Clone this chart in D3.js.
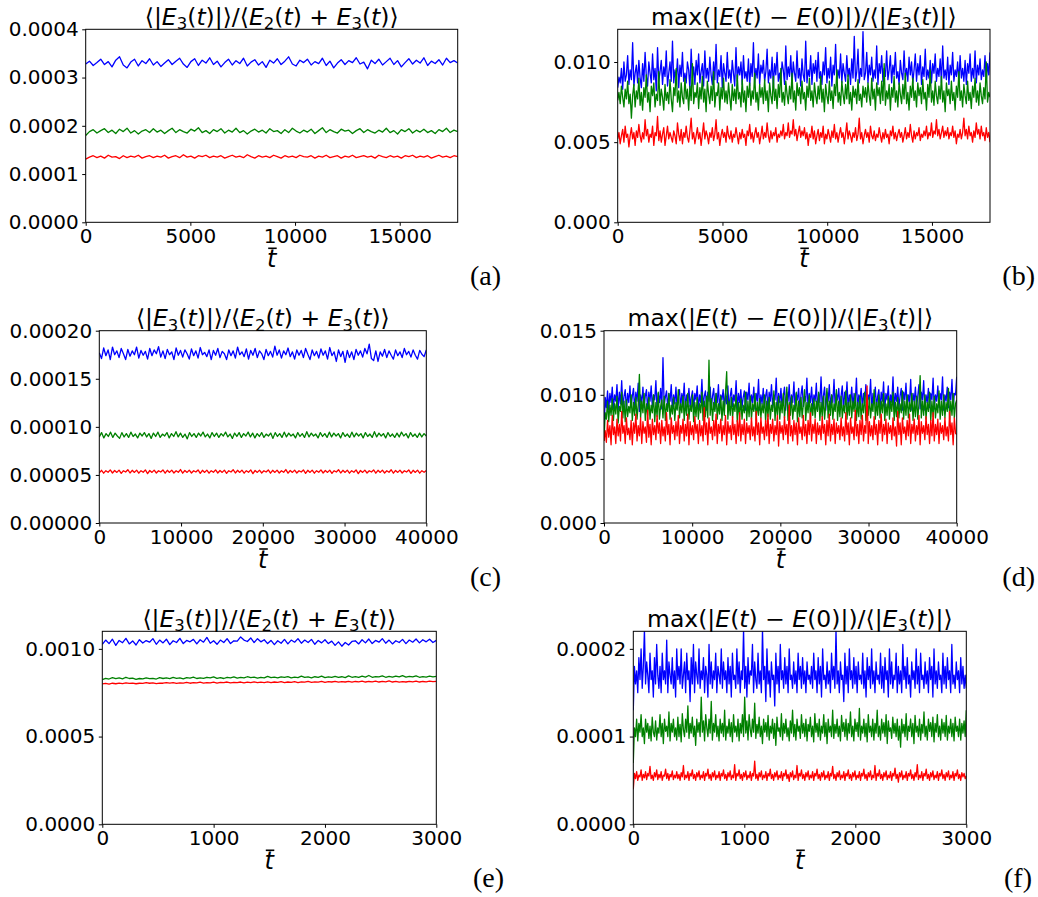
<!DOCTYPE html>
<html>
<head>
<meta charset="utf-8">
<script src="https://d3js.org/d3.v7.min.js"></script>
<style>
body { margin: 0; background: #fff; }
svg text { font-family: "DejaVu Sans", sans-serif; }
svg text.plab { font-family: "Liberation Serif", serif; }
</style>
</head>
<body>
<script>
// ---- data (series values are in the unit given next to them) ----
// panel (a), unit 1e-6
const aBlue = [328,334,325,331,338,327,333,322,336,343,326,320,332,338,324,335,329,339,326,333,323,330,337,327,334,340,328,321,333,339,325,336,330,341,327,334,322,331,338,326,335,329,340,324,332,337,326,333,321,336,330,339,327,334,343,328,324,336,331,338,326,333,329,340,325,334,320,330,337,327,335,331,341,328,332,318,336,329,338,326,333,340,327,335,322,331,339,328,336,330,341,325,334,329,337,326,340,331,335,330];
const aGreen = [180,188,192,185,190,194,186,191,184,193,188,195,185,190,183,189,192,186,194,187,191,184,190,195,186,192,188,185,193,189,196,186,190,184,192,188,194,185,191,187,195,186,190,183,189,193,187,191,185,194,188,190,184,192,186,195,189,185,191,187,193,184,190,196,186,192,188,185,193,189,191,184,190,194,186,192,188,185,191,187,195,186,190,183,192,188,194,185,191,187,193,186,190,184,192,188,195,186,191,188];
const aRed = [131,135,138,134,137,133,139,135,136,132,138,134,137,135,139,133,136,138,134,137,135,139,133,136,138,134,140,135,137,133,138,136,139,134,137,135,138,133,136,139,135,137,134,140,136,133,138,135,137,134,139,136,133,138,135,137,134,139,136,135,138,133,137,135,139,134,136,138,133,137,135,139,134,136,138,135,137,133,139,136,134,138,135,137,133,138,136,139,134,137,135,138,133,136,139,135,137,134,138,136];

// panel (b), unit 1e-5
const bBlue = [840,905,870,960,830,1000,880,920,1040,860,950,890,1120,850,930,980,870,1010,900,840,
990,880,1060,910,850,1000,930,870,1050,890,960,820,1090,880,940,1010,860,970,910,1070,
850,930,1000,880,1130,870,950,900,1020,840,980,910,1060,880,930,870,1000,950,830,1080,
900,970,860,1010,920,1050,870,940,990,850,1070,900,960,880,1030,920,860,1000,890,1110,
870,950,910,1040,840,990,930,880,1060,900,950,870,1010,930,850,1090,880,970,920,1000,
860,1040,900,940,880,1020,850,990,910,1120,870,960,900,1050,860,980,930,1010,880,940,
1080,870,950,900,1030,840,990,920,1060,880,930,870,1000,950,860,1100,890,970,910,1040,
860,1000,930,880,1070,900,960,850,1020,920,880,1130,870,950,910,1040,860,990,930,1010,
880,1060,900,940,860,1000,920,1090,870,960,900,1030,850,980,920,1110,880,950,900,1050,
870,990,930,880,1040,910,960,860,1020,900,1160,880,940,1080,870,960,910,1190,890,930,
1060,870,980,920,1030,880,950,900,1100,860,990,930,1040,880,960,910,1070,890,950,1040,
870,980,920,1060,900,940,860,1010,930,890,1070,900,960,880,1030,920,1000,870,950,1050,
880,990,920,1040,860,970,910,1080,890,950,900,1010,870,990,930,1050,880,960,910,1020,
870,1100,900,950,890,1030,860,980,920,1060,880,950,910,1000,870,1040,900,960,880,1010,
860,990,930,1050,880,960,900,1070,870,980,920,1020,890,950,910,1040,880,990,920,1060];
const bGreen = [760,810,740,850,780,720,830,770,880,740,800,650,790,860,720,820,770,900,730,810,
700,840,780,920,750,810,690,850,790,870,720,800,760,940,730,830,780,700,860,760,
810,740,890,770,690,840,790,960,750,820,720,870,780,740,900,770,830,700,850,760,
990,740,810,780,870,710,840,770,910,750,830,690,880,800,740,850,760,940,720,810,
790,870,700,840,770,900,750,820,740,870,780,700,860,760,830,740,920,770,810,720,
890,750,820,690,850,780,870,730,820,770,930,750,810,700,860,780,840,740,890,760,
820,690,870,790,740,910,760,830,710,860,780,960,750,810,730,880,800,740,850,770,
930,750,820,700,870,790,840,740,880,770,810,700,850,780,900,760,820,720,870,790,
740,850,770,910,750,830,690,860,790,740,880,760,820,710,860,790,950,750,810,730,
880,800,740,860,770,920,740,810,700,850,780,830,740,890,760,800,720,850,780,840,
750,870,790,730,900,770,830,700,870,790,840,740,880,760,990,730,820,770,860,700,
840,780,910,750,820,720,870,800,740,860,770,930,740,810,700,850,780,900,760,820,
720,870,790,840,740,890,770,810,700,860,780,950,750,820,730,880,790,740,850,770,
910,750,820,690,870,790,830,740,880,760,810,700,850,780,940,760,820,720,860,790,
740,880,760,810,710,850,780,900,750,820,730,870,790,740,840,770,1000,750,810,780];
const bRed = [520,560,490,540,580,500,600,530,550,470,540,590,520,560,480,570,530,610,540,500,
560,520,640,540,580,500,550,530,600,480,560,540,660,510,570,500,550,590,480,540,
600,520,560,530,500,570,540,490,620,550,510,580,490,560,530,600,530,500,570,650,
520,560,490,540,590,520,560,480,550,620,520,570,540,490,560,530,590,510,550,640,
520,560,480,540,580,530,560,500,600,540,520,570,500,550,530,590,540,490,560,520,
580,530,550,480,570,540,610,520,560,500,550,590,530,560,490,540,600,520,560,530,
620,540,500,570,520,560,540,590,500,550,530,570,540,610,520,560,540,620,530,570,
550,640,540,580,510,560,600,530,570,540,590,520,560,480,550,530,600,520,570,490,
540,580,510,560,530,600,490,550,520,580,540,500,570,530,610,520,560,500,550,590,
530,560,490,550,620,520,570,540,500,560,530,590,510,550,650,520,560,490,540,580,
530,560,500,600,540,520,570,510,550,530,590,540,500,560,520,580,530,550,490,570,
540,600,520,560,510,550,580,530,560,500,540,590,520,560,530,610,540,500,570,520,
560,540,590,510,550,530,570,540,600,520,560,540,620,530,570,550,640,540,580,520,
560,600,530,570,540,590,520,560,540,600,530,570,490,550,530,580,520,560,650,540,
580,520,600,540,560,500,570,530,620,550,580,520,600,540,560,510,590,530,560,500];

// panel (c), unit 1e-7
const cBlue = [1770,1710,1820,1740,1800,1700,1830,1750,1790,1720,1815,1760,1700,1805,1735,1790,1750,1830,1715,1795,1745,1785,1705,1815,1740,1800,1760,1835,1725,1790,1710,1805,1750,1780,1700,1820,1745,1795,1725,1800,1760,1705,1810,1740,1790,1715,1825,1750,1775,1730,1800,1700,1795,1745,1815,1720,1785,1760,1700,1800,1740,1790,1715,1830,1750,1780,1730,1810,1705,1795,1745,1815,1720,1790,1760,1700,1805,1740,1785,1725,1840,1745,1800,1715,1790,1750,1820,1730,1780,1705,1800,1745,1795,1720,1815,1755,1700,1800,1740,1785,1715,1810,1745,1790,1705,1825,1740,1780,1680,1800,1730,1785,1670,1795,1720,1780,1700,1805,1745,1790,1725,1815,1760,1860,1710,1690,1790,1680,1780,1735,1805,1720,1790,1745,1705,1800,1740,1780,1720,1815,1750,1785,1725,1800,1745,1705,1795,1755,1730,1800];
const cGreen = [895,940,885,930,900,945,890,935,905,880,940,895,930,890,945,900,925,885,935,905,940,895,930,880,935,900,945,890,925,905,940,885,930,900,950,895,935,890,925,875,940,900,930,890,935,905,945,895,925,885,940,900,935,890,930,905,945,895,925,880,935,900,940,890,930,905,945,895,935,885,930,900,940,890,925,905,935,880,940,900,930,890,945,895,935,905,925,885,940,900,930,890,950,895,935,905,925,885,940,900,930,890,945,895,935,905,930,885,940,900,925,890,945,895,935,905,930,885,940,900,925,890,950,895,935,905,930,885,940,900,925,890,935,895,945,905,930,885,940,900,925,890,935,895,930,905];
const cRed = [522,548,518,544,528,552,520,546,526,550,516,544,530,554,520,548,526,550,518,544,528,552,514,546,526,550,520,544,530,552,518,548,526,550,520,544,528,556,518,546,526,550,520,544,530,552,516,548,526,550,518,544,528,552,520,546,526,550,516,544,530,554,520,548,526,550,518,544,528,552,514,546,526,550,520,544,530,552,518,548,526,550,520,544,528,556,518,546,526,550,520,544,530,552,516,548,526,550,518,544,528,552,520,546,526,550,516,544,530,554,520,548,526,550,518,544,528,552,514,546,526,550,520,544,530,552,518,548,526,550,520,544,528,554,518,546,526,550,520,544,530,552,516,548,526,550,518,544,528,545];

// panel (d), unit 1e-5
const dBlue = [700,980,900,1030,880,1010,940,1060,890,1000,950,1080,880,1020,930,1110,900,990,1040,880,
1010,940,1070,900,990,1050,880,1020,950,1090,870,1000,930,1060,900,990,1040,880,1020,950,
1070,900,1000,960,1110,880,1010,940,1050,890,1290,920,980,1030,900,1010,950,1080,880,1000,
930,1060,890,990,1040,900,1010,950,1090,880,1000,940,1050,910,980,1030,890,1010,960,1070,
880,1000,940,1120,900,990,1030,880,1020,950,1060,900,990,1050,890,1010,940,1080,880,1000,
960,1040,900,1010,930,1070,880,990,1050,910,1000,950,1110,890,1010,940,1040,900,980,1030,
880,1020,960,1090,900,1000,940,1060,890,1010,950,1120,880,1000,930,1050,900,990,1040,880,
1020,950,1080,900,1000,960,1130,890,1010,940,1050,900,990,1060,880,1020,950,1080,900,1000,
940,1100,890,1010,960,1050,880,1000,1070,910,990,950,1130,890,1010,940,1060,900,1000,950,
1090,880,1010,940,1140,900,990,1060,880,1020,950,1080,900,1000,940,1120,890,1010,960,1050,
900,990,1070,880,1020,950,1100,890,1000,940,1060,900,1010,950,1130,880,1000,960,1050,900,
1010,940,1080,890,1000,960,1120,880,1010,950,1060,900,990,1040,890,1020,950,1100,880,1010,
960,1070,900,1000,940,1140,890,1010,950,1060,900,990,1050,880,1020,960,1090,900,1000,940,
1120,880,1010,950,1060,900,990,1080,890,1020,960,1110,880,1000,940,1050,900,1010,960,1130,
890,1000,950,1070,900,1010,960,1140,880,1000,950,1060,900,1020,960,1120,890,1010,1000,1140];
const dGreen = [640,860,810,950,790,920,840,970,800,930,850,990,780,910,870,1020,820,950,790,960,
830,910,860,1000,800,940,840,980,810,920,1160,820,950,860,1010,800,930,840,980,810,
920,860,1000,790,940,830,1020,810,910,960,820,990,800,930,870,1010,810,920,850,980,
800,940,880,1040,820,930,860,990,800,950,840,1010,810,920,870,1000,790,940,830,980,
810,930,860,1020,800,950,830,990,820,1270,840,970,800,940,870,1010,810,930,850,990,
800,950,840,1020,1180,810,950,840,980,820,930,870,1000,790,940,830,970,810,920,860,
1020,800,950,830,990,810,930,870,1010,800,940,840,970,820,930,860,1000,790,950,830,
980,810,920,870,1030,800,940,840,990,810,950,860,1010,820,930,1060,800,940,840,990,
810,920,870,1020,790,950,830,980,820,930,1040,800,940,860,1000,810,930,840,970,820,
950,870,1020,800,940,830,990,810,930,1050,820,950,840,1000,810,930,870,1040,800,950,
830,990,820,920,860,1030,810,940,840,1000,820,950,870,1010,800,940,830,990,810,930,
860,1020,800,950,840,980,820,930,870,1040,810,940,840,1000,820,950,860,1010,800,930,
840,990,810,950,870,1020,800,940,830,980,820,930,860,1030,810,950,840,1000,820,940,
870,1010,800,950,830,990,810,930,1150,820,950,840,1000,810,940,870,1020,800,950,830,
990,820,930,860,1030,810,950,840,1000,820,940,870,1050,810,950,840,1010,820,930,960];
const dRed = [640,720,630,800,670,760,610,840,690,750,620,810,680,770,640,870,700,760,620,820,
690,740,650,800,610,780,700,850,640,760,680,820,620,790,700,750,630,880,670,770,
610,810,690,760,650,840,700,780,620,800,680,750,640,860,690,770,610,820,700,760,
650,790,680,840,620,760,700,810,640,770,680,850,610,790,690,760,650,830,700,770,
620,800,680,760,640,900,690,780,610,820,700,750,650,800,680,850,620,770,700,810,
640,760,690,840,610,790,700,760,650,830,690,770,620,800,680,860,640,770,690,810,
620,780,700,760,650,820,680,750,640,870,690,780,610,820,700,750,650,800,680,850,
620,770,700,810,640,760,690,840,600,790,700,760,650,830,690,770,620,920,680,760,
640,800,690,780,610,820,700,750,650,840,680,770,620,800,690,860,640,770,700,810,
620,780,690,760,650,830,700,770,610,800,680,850,640,770,690,810,620,780,700,760,
650,820,680,750,640,860,690,780,610,820,700,750,650,880,680,770,620,800,690,840,
640,760,700,1070,620,790,680,760,650,830,690,770,610,800,700,850,640,770,690,810,
620,780,700,760,650,820,680,750,600,870,690,780,610,820,700,750,650,800,680,850,
620,770,700,810,640,760,690,840,610,790,700,760,650,830,690,770,620,800,680,860,
640,770,690,810,620,780,700,760,650,820,680,750,640,870,690,780,610,820,700,690];

// panel (e), unit 1e-6
const eBlue = [1025,1050,1030,1055,1020,1048,1035,1060,1028,1045,1022,1052,1033,1047,1038,1058,1026,1050,1034,1055,1024,1046,1036,1060,1030,1048,1040,1054,1028,1052,1038,1065,1032,1046,1026,1050,1036,1058,1030,1046,1044,1068,1050,1042,1062,1036,1058,1040,1052,1030,1048,1024,1046,1032,1054,1028,1050,1038,1058,1032,1050,1036,1054,1026,1048,1034,1052,1030,1044,1020,1040,1015,1036,1022,1042,1046,1028,1052,1034,1056,1030,1048,1038,1058,1032,1050,1028,1046,1036,1054,1030,1050,1038,1056,1034,1052,1040,1055,1036,1048];
const eGreen = [825,832,828,836,830,834,829,838,831,833,826,831,829,834,830,832,828,836,831,834,830,837,832,835,829,836,833,839,831,835,832,838,834,840,832,836,831,838,835,840,833,837,834,841,836,839,833,838,835,843,836,839,834,840,837,842,835,839,836,844,837,840,835,841,838,845,836,840,837,843,838,841,836,846,838,842,837,844,839,848,838,842,840,846,838,843,839,845,840,847,839,843,840,846,838,842,839,844,840,843];
const eRed = [800,803,799,804,801,805,802,806,803,805,801,804,803,807,804,806,802,805,804,808,805,807,803,806,805,809,804,807,806,810,805,808,806,810,805,809,807,811,806,809,807,811,806,810,808,812,807,810,808,812,807,811,809,813,808,811,809,813,808,812,810,814,809,812,810,815,809,813,811,815,810,813,811,815,810,814,812,816,811,814,812,816,811,815,812,817,811,814,810,813,811,815,812,816,811,814,812,816,813,815];

// panel (f), unit 1e-6
const fBlue = [130,180,160,175,150,190,165,200,155,180,222,160,185,170,150,195,165,175,145,190,
160,205,170,155,180,150,195,165,175,160,210,150,185,170,160,190,155,175,145,200,
165,180,160,200,155,170,185,150,195,165,175,140,190,160,205,150,185,170,160,200,
155,175,165,190,150,180,170,145,205,160,185,155,175,165,195,150,180,170,160,200,
155,185,165,175,150,190,160,180,145,195,165,170,155,200,160,185,150,175,165,222,
155,180,145,190,160,175,170,205,150,185,165,155,195,160,175,150,222,165,180,140,
200,160,175,145,185,165,170,135,195,160,180,150,205,165,175,155,190,160,180,150,
200,165,170,155,185,160,175,150,195,165,180,155,190,160,175,150,185,165,170,160,
180,155,195,165,175,150,190,160,180,145,200,165,170,155,185,160,175,150,195,165,
180,155,222,160,175,150,185,165,170,140,195,160,180,150,200,165,175,155,190,160,
180,150,185,165,170,160,195,155,175,145,190,165,180,155,200,160,175,150,185,165,
170,160,195,155,180,150,190,165,175,145,200,160,185,155,170,165,195,150,180,160,
175,150,205,165,180,155,190,160,170,145,185,165,175,155,200,160,180,150,195,165,
170,155,185,160,175,150,190,165,180,145,200,160,175,155,185,165,170,150,195,160,
180,155,190,165,175,150,205,160,170,155,185,165,175,150,190,160,180,155,170,155];
const fGreen = [70,110,100,120,95,115,105,125,100,110,92,120,105,115,98,112,95,122,105,100,
118,96,110,104,125,100,115,92,120,106,112,100,128,95,115,105,120,100,110,96,
122,100,114,94,126,108,100,120,105,135,98,115,104,122,100,112,90,120,105,116,
100,145,105,118,95,125,110,100,120,104,140,96,115,105,125,100,112,95,120,104,
115,100,130,96,112,104,120,100,116,94,125,105,112,100,120,95,115,104,125,100,
145,104,118,96,125,108,100,120,105,138,98,114,104,122,100,112,92,120,105,116,
100,124,96,112,104,120,98,115,90,122,106,110,100,126,96,115,104,120,100,110,
95,118,104,130,100,114,96,120,106,112,98,125,104,115,100,120,95,114,106,122,
100,112,94,126,105,115,100,120,96,112,104,125,100,116,92,120,105,112,100,130,
98,114,104,120,100,112,95,124,106,116,100,120,96,115,104,128,100,112,95,120,
106,116,100,132,96,112,104,120,100,115,94,125,105,112,100,120,96,115,104,130,
100,112,96,120,104,116,100,125,92,118,106,110,98,122,104,115,100,120,96,112,
88,120,104,114,100,126,96,112,106,120,100,115,92,124,105,112,100,120,96,114,
104,128,100,112,96,120,106,116,100,122,94,115,105,125,100,112,96,120,104,116,
100,124,96,112,104,120,100,115,95,122,106,112,100,120,96,115,104,118,100,130];
const fRed = [40,58,52,60,50,56,54,62,50,57,53,60,51,58,55,66,52,56,50,59,
54,62,51,57,53,60,50,56,55,63,52,58,50,57,54,61,51,56,53,60,
52,57,50,59,54,67,51,56,53,60,50,58,55,62,52,57,50,59,54,61,
51,56,53,60,50,58,55,63,52,57,50,59,54,61,51,56,53,60,50,58,
55,62,52,57,50,59,54,61,51,56,53,68,50,58,55,62,52,57,50,59,
54,61,51,56,53,60,50,58,55,72,52,57,50,59,54,61,51,56,53,60,
50,58,55,63,52,57,50,59,54,61,51,56,53,60,50,58,55,62,52,57,
49,59,54,61,51,56,53,67,50,58,55,62,52,57,50,59,54,61,51,56,
53,60,50,58,55,63,52,57,50,59,54,61,51,56,53,60,50,58,55,66,
52,57,50,59,54,61,51,56,53,60,50,58,55,62,52,57,50,59,54,61,
51,56,53,60,50,58,55,63,52,57,50,59,54,61,51,56,53,67,50,58,
55,62,52,57,50,59,54,61,51,56,53,60,50,58,55,64,52,57,48,59,
54,61,51,56,53,60,50,58,55,62,52,57,50,59,54,68,51,56,53,60,
50,58,55,63,52,57,50,59,54,61,51,56,53,60,50,58,55,62,52,57,
50,59,54,61,51,56,53,60,50,58,55,62,52,57,50,59,54,58,52,55];

// axis ranges and tick values
const tEnds = [17770, 17770, 40000, 40000, 3000, 3000];
const yMaxes = [0.0004, 0.01204, 0.0002, 0.015, 0.0011, 0.00022];
const xTicksAB = [0, 5000, 10000, 15000];
const xTicksCD = [0, 10000, 20000, 30000, 40000];
const xTicksEF = [0, 1000, 2000, 3000];
const yTicksA = [0, 0.0001, 0.0002, 0.0003, 0.0004];
const yTicksB = [0, 0.005, 0.010];
const yTicksC = [0, 0.00005, 0.00010, 0.00015, 0.00020];
const yTicksD = [0, 0.005, 0.010, 0.015];
const yTicksE = [0, 0.0005, 0.0010];
const yTicksF = [0, 0.0001, 0.0002];
const panelLetters = ["(a)", "(b)", "(c)", "(d)", "(e)", "(f)"];
const colors = ["#0000ff", "#008000", "#ff0000"];

// layout (pixel boxes of each axes)
const panels = [
  {series: [aBlue, aGreen, aRed], unit: 1e-6, xt: xTicksAB, yt: yTicksA, dec: 4, title: "ratio", x0: 85.7, x1: 457.7, y0: 29.3, y1: 222.3, lx: 501, ly: 285},
  {series: [bBlue, bGreen, bRed], unit: 1e-5, xt: xTicksAB, yt: yTicksB, dec: 3, title: "max", x0: 617.7, x1: 990, y0: 29.3, y1: 222.3, lx: 1035, ly: 285},
  {series: [cBlue, cGreen, cRed], unit: 1e-7, xt: xTicksCD, yt: yTicksC, dec: 5, title: "ratio", x0: 99.3, x1: 426.3, y0: 330.7, y1: 523, lx: 501, ly: 586},
  {series: [dBlue, dGreen, dRed], unit: 1e-5, xt: xTicksCD, yt: yTicksD, dec: 3, title: "max", x0: 604, x1: 956.7, y0: 330.7, y1: 523, lx: 1035, ly: 586},
  {series: [eBlue, eGreen, eRed], unit: 1e-6, xt: xTicksEF, yt: yTicksE, dec: 4, title: "ratio", x0: 102.3, x1: 436.3, y0: 631.3, y1: 824.3, lx: 504, ly: 887},
  {series: [fBlue, fGreen, fRed], unit: 1e-6, xt: xTicksEF, yt: yTicksF, dec: 4, title: "max", x0: 633.3, x1: 966.3, y0: 631.3, y1: 824.3, lx: 1032, ly: 887}
];

// title pieces: [text, style]  n = normal, i = italic, s = subscript
const ratioTitle = [["⟨|","n"],["E","i"],["3","s"],["(","n"],["t","i"],[")|⟩/⟨","n"],["E","i"],["2","s"],["(","n"],["t","i"],[") + ","n"],["E","i"],["3","s"],["(","n"],["t","i"],[")⟩","n"]];
const maxTitle = [["max(|","n"],["E","i"],["(","n"],["t","i"],[") − ","n"],["E","i"],["(0)|)/⟨|","n"],["E","i"],["3","s"],["(","n"],["t","i"],[")|⟩","n"]];

const W = 1038, H = 897;
const svg = d3.select("body").append("svg")
  .attr("width", W)
  .attr("height", H);

panels.forEach((p, k) => {
  const x = d3.scaleLinear().domain([0, tEnds[k]]).range([p.x0, p.x1]);
  const y = d3.scaleLinear().domain([0, yMaxes[k]]).range([p.y1, p.y0]);
  const g = svg.append("g");

  g.append("clipPath").attr("id", "clip" + k)
    .append("rect")
    .attr("x", p.x0).attr("y", p.y0)
    .attr("width", p.x1 - p.x0).attr("height", p.y1 - p.y0);

  // lines: blue first, red last on top
  const line = d3.line()
    .x(d => x(d[0]))
    .y(d => y(d[1]));
  p.series.forEach((s, j) => {
    const pts = s.map((v, i) => [i * tEnds[k] / (s.length - 1), v * p.unit]);
    g.append("path")
      .datum(pts)
      .attr("clip-path", "url(#clip" + k + ")")
      .attr("d", line)
      .attr("fill", "none")
      .attr("stroke", colors[j])
      .attr("stroke-width", 1.3)
      .attr("stroke-linejoin", "round");
  });

  // frame
  g.append("rect")
    .attr("x", p.x0).attr("y", p.y0)
    .attr("width", p.x1 - p.x0).attr("height", p.y1 - p.y0)
    .attr("fill", "none").attr("stroke", "#000").attr("stroke-width", 1);

  const xAxis = g.append("g")
    .attr("transform", `translate(0,${p.y1})`)
    .call(d3.axisBottom(x).tickValues(p.xt).tickFormat(d3.format("d")).tickSize(3.5).tickSizeOuter(0).tickPadding(3));
  const yAxis = g.append("g")
    .attr("transform", `translate(${p.x0},0)`)
    .call(d3.axisLeft(y).tickValues(p.yt).tickFormat(d3.format("." + p.dec + "f")).tickSize(3.5).tickSizeOuter(0).tickPadding(3.5));
  [xAxis, yAxis].forEach(a => {
    a.select(".domain").remove();
    a.selectAll("text").attr("font-size", 20).attr("fill", "#000");
    a.selectAll("line").attr("stroke", "#000");
  });

  // title
  const parts = p.title === "ratio" ? ratioTitle : maxTitle;
  const tt = g.append("text")
    .attr("x", (p.x0 + p.x1) / 2)
    .attr("y", p.y0 - 4.5)
    .attr("text-anchor", "middle")
    .attr("font-size", 23.5)
    .style("white-space", "pre");
  let shifted = false;
  parts.forEach(([str, st]) => {
    const ts = tt.append("tspan").text(str);
    if (st === "i") ts.attr("font-style", "italic");
    if (st === "s") {
      ts.attr("font-size", 16.5).attr("dy", 4.5);
      shifted = true;
    } else if (shifted) {
      ts.attr("dy", -4.5);
      shifted = false;
    }
  });

  // x label: italic t with an overbar
  const cx = (p.x0 + p.x1) / 2;
  g.append("text")
    .attr("x", cx)
    .attr("y", p.y1 + 45)
    .attr("text-anchor", "middle")
    .attr("font-size", 24)
    .attr("font-style", "italic")
    .text("t");
  g.append("line")
    .attr("x1", cx - 3.5).attr("x2", cx + 5)
    .attr("y1", p.y1 + 26).attr("y2", p.y1 + 26)
    .attr("stroke", "#000").attr("stroke-width", 1.6);

  // panel letter
  g.append("text")
    .attr("class", "plab")
    .attr("x", p.lx)
    .attr("y", p.ly)
    .attr("text-anchor", "end")
    .attr("font-size", 28)
    .text(panelLetters[k]);
});
</script>
</body>
</html>
